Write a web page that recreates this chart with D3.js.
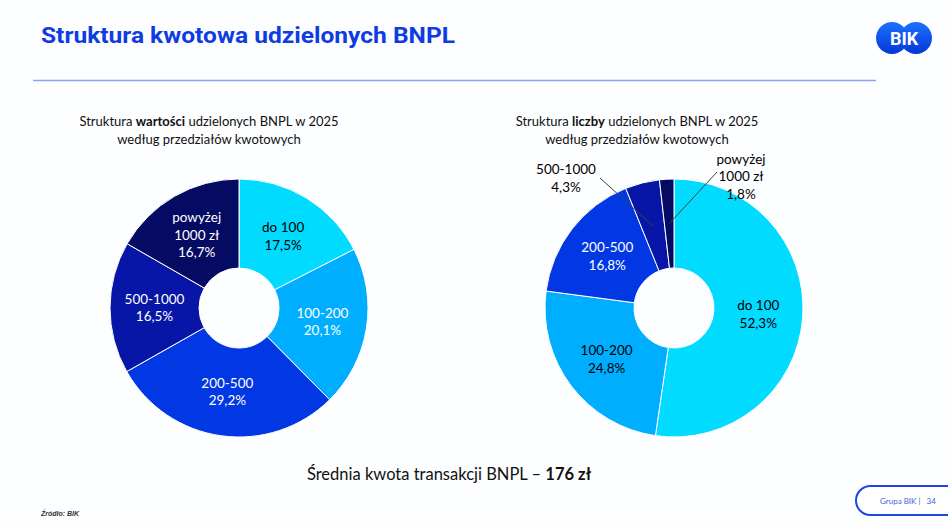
<!DOCTYPE html>
<html>
<head>
<meta charset="utf-8">
<script src="https://cdn.jsdelivr.net/npm/d3@7"></script>
<style>
  body { margin: 0; background: #fdfeff; }
  svg { display: block; font-family: Lato, "Open Sans", sans-serif; }
</style>
</head>
<body>
<svg width="948" height="523"></svg>
<script>
// przedziały kwotowe
var categories = ["do 100", "100-200", "200-500", "500-1000", "powyżej 1000 zł"];
var labelLines = [["do 100"], ["100-200"], ["200-500"], ["500-1000"], ["powyżej", "1000 zł"]];
// udział w wartości (%)
var valueShare = [17.5, 20.1, 29.2, 16.5, 16.7];
// udział w liczbie (%)
var countShare = [52.3, 24.8, 16.8, 4.3, 1.8];
var sliceColors = ["#00dbff", "#00aeff", "#0238e4", "#0716a6", "#050b63"];

var svg = d3.select("svg");
var fmt = function(v){ return d3.format(".1f")(v).replace(".", ",") + "%"; };

// naglowek
svg.append("text")
    .attr("x", 41).attr("y", 43)
    .attr("font-family", "Roboto, sans-serif")
    .attr("font-weight", 700)
    .attr("font-size", 22)
    .attr("fill", "#0f3ce2")
    .attr("textLength", 414)
    .attr("lengthAdjust", "spacingAndGlyphs")
    .text("Struktura kwotowa udzielonych BNPL");

svg.append("line")
    .attr("x1", 33).attr("x2", 876)
    .attr("y1", 80.5).attr("y2", 80.5)
    .attr("stroke", "#8aa2ef").attr("stroke-width", 1.5);

// logo
var grad = svg.append("defs").append("linearGradient")
    .attr("id", "logoGrad").attr("x1", 0).attr("x2", 0).attr("y1", 0).attr("y2", 1);
grad.append("stop").attr("offset", "0%").attr("stop-color", "#1a73ff");
grad.append("stop").attr("offset", "100%").attr("stop-color", "#0536d8");
var logo = svg.append("g").attr("transform", "translate(904,38)");
logo.selectAll("circle").data([-12, 12]).enter().append("circle")
    .attr("cx", function(d){ return d; }).attr("cy", 0).attr("r", 16)
    .attr("fill", "url(#logoGrad)");
logo.append("text")
    .attr("text-anchor", "middle").attr("y", 6.5)
    .attr("font-family", "Roboto, sans-serif").attr("font-weight", 700)
    .attr("font-size", 18).attr("fill", "#fff")
    .text("BIK");

function drawDonut(cx, cy, values, titleBold, textColors, outside) {
    var g = svg.append("g").attr("transform", "translate(" + cx + "," + cy + ")");
    var rOuter = 129, rInner = 40;
    var pie = d3.pie().sort(null).value(function(d){ return d; });
    var arc = d3.arc().innerRadius(rInner).outerRadius(rOuter);
    var arcs = pie(values);

    g.selectAll(".slice").data(arcs).enter().append("path")
        .attr("class", "slice")
        .attr("d", arc)
        .attr("fill", function(d, i){ return sliceColors[i]; })
        .attr("stroke", "#ffffff").attr("stroke-width", 1);

    arcs.forEach(function(d, i) {
        var c = arc.centroid(d);
        var lines = labelLines[i].concat([fmt(values[i])]);
        var pos = c, fill = textColors[i];
        if (outside && outside[i]) {
            pos = outside[i].text;
            g.append("line")
                .attr("x1", c[0]).attr("y1", c[1])
                .attr("x2", outside[i].end[0]).attr("y2", outside[i].end[1])
                .attr("stroke", "#404040").attr("stroke-width", 1);
        }
        var t = g.append("text")
            .attr("text-anchor", "middle")
            .attr("font-size", 13.5)
            .attr("fill", fill);
        lines.forEach(function(l, k) {
            t.append("tspan")
                .attr("x", pos[0])
                .attr("y", pos[1] + (k - (lines.length - 1) / 2) * 17.5 + 5)
                .text(l);
        });
    });

    var tx = cx - 30 + (cx > 400 ? -7 : 0);
    var title = svg.append("text")
        .attr("text-anchor", "middle")
        .attr("font-size", 13).attr("fill", "#111");
    var l1 = title.append("tspan").attr("x", tx).attr("y", 126);
    l1.append("tspan").text("Struktura ");
    l1.append("tspan").attr("font-weight", 700).text(titleBold);
    l1.append("tspan").text(" udzielonych BNPL w 2025");
    title.append("tspan").attr("x", tx).attr("y", 144)
        .text("według przedziałów kwotowych");
}

drawDonut(239, 308, valueShare, "wartości",
    ["#000", "#fff", "#fff", "#fff", "#fff"], null);

drawDonut(674, 308, countShare, "liczby",
    ["#000", "#000", "#fff", "#000", "#000"],
    [null, null, null,
     {text: [-108, -130], end: [-74, -130]},
     {text: [67, -132], end: [43, -136]}]);

// srednia kwota
var avg = svg.append("text")
    .attr("x", 449).attr("y", 480)
    .attr("text-anchor", "middle")
    .attr("font-size", 16.5).attr("fill", "#111");
avg.append("tspan").text("Średnia kwota transakcji BNPL – ");
avg.append("tspan").attr("font-weight", 700).text("176 zł");

svg.append("text")
    .attr("x", 41).attr("y", 516)
    .attr("font-family", "Liberation Sans, sans-serif")
    .attr("font-size", 7).attr("font-style", "italic").attr("font-weight", 700)
    .attr("fill", "#333")
    .text("Źródło: BIK");

// stopka
svg.append("rect")
    .attr("x", 856).attr("y", 486).attr("width", 120).attr("height", 29)
    .attr("rx", 14.5)
    .attr("fill", "#fff").attr("stroke", "#1c44e6").attr("stroke-width", 2);
svg.append("text")
    .attr("x", 880).attr("y", 503.5)
    .attr("font-size", 8).attr("fill", "#3f62d9")
    .attr("xml:space", "preserve")
    .text("Grupa BIK |   34");
</script>
</body>
</html>
